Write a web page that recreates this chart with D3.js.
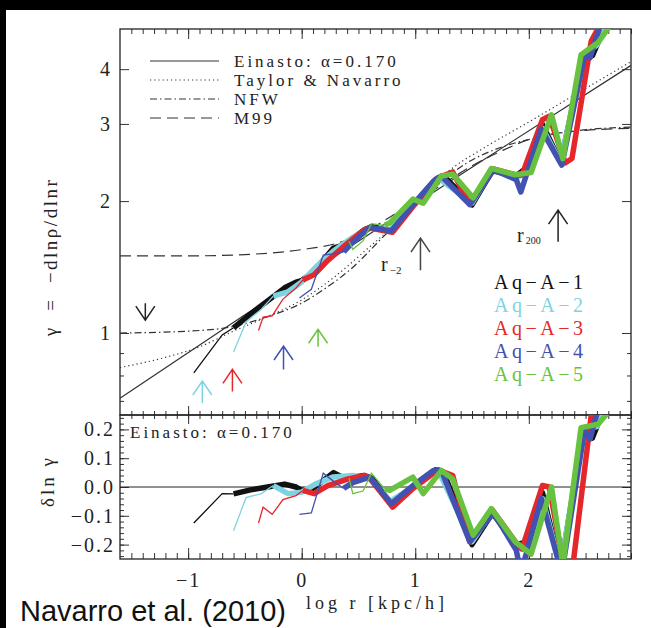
<!DOCTYPE html>
<html>
<head>
<meta charset="utf-8">
<script src="https://cdn.jsdelivr.net/npm/d3@7"></script>
<style>
  body { margin: 0; background: white; }
  text { font-family: "Liberation Serif", "Times New Roman", serif; fill: #222; }
</style>
</head>
<body>
<div class="chart"></div>
<script>
// tick labels
var xTicks = [-1, 0, 1, 2];
var gammaTicks = [1, 2, 3, 4];
var gammaMinor = [0.7, 0.8, 0.9];
var dlnTicks = [-0.2, -0.1, 0.0, 0.1, 0.2];

// model curves: [log r, gamma]
var einasto = [[-1.6, 0.71], [-0.5, 1.10], [0.5, 1.62], [1.5, 2.39], [2.9, 4.08]];
var taylorNavarro = [[-1.6, 0.834], [-1.2, 0.88], [-0.9, 0.93], [-0.6, 1.01], [-0.3, 1.09], [0.0, 1.19], [0.3, 1.35],
  [0.57, 1.55], [0.8, 1.75], [1.05, 2.04], [1.32, 2.37], [1.6, 2.64], [2.0, 3.03], [2.4, 3.49], [2.9, 4.16]];
var nfw = [[-1.6, 1.0], [-1.0, 1.01], [-0.6, 1.035], [-0.3, 1.09], [0.0, 1.17], [0.2, 1.26], [0.42, 1.39], [0.72, 1.66],
  [1.0, 1.96], [1.2, 2.18], [1.45, 2.44], [1.75, 2.65], [2.07, 2.79], [2.45, 2.90], [2.9, 2.95]];
var m99 = [[-1.6, 1.5], [-1.0, 1.5], [-0.5, 1.51], [0.0, 1.55], [0.3, 1.60], [0.5, 1.67], [0.72, 1.80], [1.0, 2.0],
  [1.2, 2.15], [1.48, 2.39], [1.77, 2.61], [2.07, 2.80], [2.5, 2.90], [2.9, 2.93]];

// simulations: log r, gamma (top), delta ln gamma (bottom), index where the thick part starts
var a1LogR  = [-0.95, -0.70, -0.60, -0.45, -0.30, -0.15, -0.05, 0.0, 0.1, 0.28, 0.38, 0.55, 0.62, 0.78, 0.98, 1.18, 1.25, 1.50, 1.68, 1.88, 2.0, 2.12, 2.28, 2.48, 2.56, 2.65, 2.75];
var a1Gamma = [0.811, 0.990, 1.028, 1.106, 1.184, 1.268, 1.306, 1.316, 1.378, 1.562, 1.592, 1.719, 1.749, 1.710, 1.954, 2.243, 2.283, 1.960, 2.348, 2.274, 2.407, 2.990, 2.455, 4.247, 4.295, 4.868, 5.54];
var a1Dln   = [-0.125, -0.023, -0.024, -0.01, 0.0, 0.01, 0.0, -0.012, -0.005, 0.05, 0.03, 0.04, 0.03, -0.055, 0.0, 0.06, 0.05, -0.2, -0.09, -0.2, -0.19, -0.02, -0.28, 0.19, 0.17, 0.26, 0.35];
var a1Thick = 2;

var a2LogR  = [-0.60, -0.49, -0.355, -0.25, -0.12, 0.0, 0.12, 0.28, 0.45, 0.6, 0.78, 0.98, 1.2, 1.5, 1.68, 1.9, 2.0, 2.12, 2.28, 2.48, 2.6, 2.66, 2.75];
var a2Gamma = [0.905, 1.060, 1.133, 1.214, 1.242, 1.308, 1.410, 1.539, 1.653, 1.735, 1.719, 1.954, 2.261, 1.980, 2.359, 2.269, 2.336, 2.931, 2.455, 4.290, 4.541, 4.887, 5.54];
var a2Dln   = [-0.152, -0.037, -0.023, 0.005, -0.023, -0.018, 0.01, 0.035, 0.04, 0.03, -0.05, 0.0, 0.06, -0.19, -0.085, -0.21, -0.22, -0.04, -0.28, 0.2, 0.21, 0.26, 0.35];
var a2Thick = 3;

var a3LogR  = [-0.38, -0.34, -0.26, -0.165, -0.05, 0.01, 0.11, 0.23, 0.41, 0.555, 0.6, 0.8, 0.98, 1.2, 1.33, 1.48, 1.68, 1.9, 1.94, 2.12, 2.18, 2.32, 2.38, 2.55, 2.62, 2.72];
var a3Gamma = [1.013, 1.087, 1.094, 1.195, 1.267, 1.321, 1.359, 1.464, 1.608, 1.722, 1.735, 1.698, 1.944, 2.261, 2.331, 1.965, 2.371, 2.292, 2.293, 3.066, 3.123, 2.444, 2.502, 4.635, 5.01, 5.75];
var a3Dln   = [-0.125, -0.07, -0.095, -0.044, -0.03, -0.012, -0.023, 0.005, 0.028, 0.04, 0.03, -0.07, -0.005, 0.06, 0.04, -0.19, -0.08, -0.2, -0.215, 0.005, 0.0, -0.3, -0.3, 0.25, 0.3, 0.4];
var a3Thick = 5;

var a4LogR  = [-0.02, 0.085, 0.19, 0.29, 0.37, 0.45, 0.6, 0.79, 0.98, 1.16, 1.23, 1.48, 1.69, 1.89, 1.93, 2.11, 2.29, 2.49, 2.54, 2.63, 2.7];
var a4Gamma = [1.202, 1.258, 1.505, 1.517, 1.531, 1.612, 1.742, 1.712, 1.963, 2.219, 2.280, 1.965, 2.357, 2.238, 2.098, 2.920, 2.415, 4.285, 4.249, 5.03, 5.49];
var a4Dln   = [-0.095, -0.09, 0.048, 0.017, -0.005, 0.015, 0.034, -0.058, 0.005, 0.057, 0.057, -0.19, -0.09, -0.22, -0.3, -0.04, -0.3, 0.195, 0.167, 0.3, 0.36];
var a4Thick = 4;

var a5LogR  = [0.417, 0.45, 0.54, 0.614, 0.73, 0.775, 0.98, 1.07, 1.23, 1.33, 1.51, 1.67, 1.88, 2.02, 2.2, 2.30, 2.46, 2.61, 2.70, 2.76];
var a5Gamma = [1.619, 1.552, 1.622, 1.776, 1.761, 1.782, 2.021, 1.978, 2.280, 2.304, 2.034, 2.374, 2.297, 2.324, 3.148, 2.499, 4.315, 4.60, 4.96, 5.40];
var a5Dln   = [0.032, -0.023, -0.014, 0.048, -0.006, -0.012, 0.034, -0.023, 0.057, 0.028, -0.167, -0.075, -0.19, -0.233, 0.0, -0.27, 0.206, 0.218, 0.26, 0.32];
var a5Thick = 4;

// arrows: log r, gamma at tail, gamma at tip
var arrowLogR = [-1.377, -0.875, -0.61, -0.16, 0.144, 1.046, 2.258];
var arrowFrom = [1.17, 0.692, 0.735, 0.826, 0.93, 1.39, 1.615];
var arrowTo   = [1.07, 0.777, 0.826, 0.934, 1.02, 1.647, 1.908];
var arrowColor = ["#222", "#7fd3e0", "#e5262b", "#4152b0", "#69c23f", "#444", "#222"];

var sims = [
  {name: "Aq\u2212A\u22121", color: "#111111", logr: a1LogR, gamma: a1Gamma, dln: a1Dln, thick: a1Thick},
  {name: "Aq\u2212A\u22122", color: "#7fd3e0", logr: a2LogR, gamma: a2Gamma, dln: a2Dln, thick: a2Thick},
  {name: "Aq\u2212A\u22123", color: "#e5262b", logr: a3LogR, gamma: a3Gamma, dln: a3Dln, thick: a3Thick},
  {name: "Aq\u2212A\u22124", color: "#4152b0", logr: a4LogR, gamma: a4Gamma, dln: a4Dln, thick: a4Thick},
  {name: "Aq\u2212A\u22125", color: "#69c23f", logr: a5LogR, gamma: a5Gamma, dln: a5Dln, thick: a5Thick}
];

var models = [
  {name: "Einasto: \u03b1=0.170", data: einasto, dash: null},
  {name: "Taylor & Navarro", data: taylorNavarro, dash: "1.2,3"},
  {name: "NFW", data: nfw, dash: "7,3,1.5,3"},
  {name: "M99", data: m99, dash: "11,6"}
];

var svg = d3.select(".chart")
            .append("svg")
            .attr("width", 651)
            .attr("height", 628)
            .style("background-color", "white");

// black scan border
svg.append("rect").attr("x", 0).attr("y", 0).attr("width", 651).attr("height", 10).attr("fill", "black");
svg.append("rect").attr("x", 0).attr("y", 0).attr("width", 6).attr("height", 628).attr("fill", "black");

var x = d3.scaleLinear().domain([-1.6, 2.9]).range([120, 631]);
var yTop = d3.scaleLog().domain([0.65, 4.94]).range([415, 29]);
var yBot = d3.scaleLinear().domain([-0.25, 0.25]).range([559, 415]);

var xMinor = d3.range(-15, 30).map(function(i) { return i / 10; });
var dlnMinor = d3.range(-12, 13).map(function(i) { return i / 50; });

var defs = svg.append("defs");
defs.append("clipPath").attr("id", "clipTop")
    .append("rect").attr("x", 120).attr("y", 29).attr("width", 511).attr("height", 386);
defs.append("clipPath").attr("id", "clipBot")
    .append("rect").attr("x", 120).attr("y", 415).attr("width", 511).attr("height", 144);

function tickAxis(axis, tx, ty) {
  var g = svg.append("g").attr("transform", "translate(" + tx + "," + ty + ")").call(axis);
  g.select(".domain").remove();
  g.selectAll("line").attr("stroke", "#333").attr("stroke-width", 1);
  g.selectAll("text")
   .style("font-family", "Liberation Serif")
   .style("font-size", "20px")
   .style("letter-spacing", "2px")
   .style("fill", "#222");
  return g;
}

// top panel ticks
tickAxis(d3.axisTop(x).tickValues(xMinor).tickSize(-5).tickFormat(""), 0, 29);
tickAxis(d3.axisTop(x).tickValues(xTicks).tickSize(-10).tickFormat(""), 0, 29);
tickAxis(d3.axisBottom(x).tickValues(xMinor).tickSize(-4).tickFormat(""), 0, 415);
tickAxis(d3.axisBottom(x).tickValues(xTicks).tickSize(-9).tickFormat(""), 0, 415);
tickAxis(d3.axisLeft(yTop).tickValues(gammaTicks).tickSize(-9).tickPadding(8).tickFormat(d3.format("d")), 120, 0);
tickAxis(d3.axisLeft(yTop).tickValues(gammaMinor).tickSize(-4).tickFormat(""), 120, 0);
tickAxis(d3.axisRight(yTop).tickValues(gammaTicks).tickSize(-9).tickFormat(""), 631, 0);
tickAxis(d3.axisRight(yTop).tickValues(gammaMinor).tickSize(-4).tickFormat(""), 631, 0);

// bottom panel ticks
tickAxis(d3.axisTop(x).tickValues(xMinor).tickSize(-4).tickFormat(""), 0, 415);
tickAxis(d3.axisTop(x).tickValues(xTicks).tickSize(-9).tickFormat(""), 0, 415);
tickAxis(d3.axisBottom(x).tickValues(xMinor).tickSize(-6).tickFormat(""), 0, 559);
tickAxis(d3.axisBottom(x).tickValues(xTicks).tickSize(-11).tickPadding(14).tickFormat(d3.format("d")), 0, 559);
tickAxis(d3.axisLeft(yBot).tickValues(dlnMinor).tickSize(-4).tickFormat(""), 120, 0);
tickAxis(d3.axisLeft(yBot).tickValues(dlnTicks).tickSize(-9).tickPadding(5).tickFormat(d3.format(".1f")), 120, 0);
tickAxis(d3.axisRight(yBot).tickValues(dlnMinor).tickSize(-4).tickFormat(""), 631, 0);
tickAxis(d3.axisRight(yBot).tickValues(dlnTicks).tickSize(-9).tickFormat(""), 631, 0);

// frames
svg.append("rect").attr("x", 120).attr("y", 29).attr("width", 511).attr("height", 386)
   .attr("fill", "none").attr("stroke", "#222").attr("stroke-width", 1.3);
svg.append("rect").attr("x", 120).attr("y", 415).attr("width", 511).attr("height", 144)
   .attr("fill", "none").attr("stroke", "#222").attr("stroke-width", 1.3);

// zero line
svg.append("line")
   .attr("x1", 120).attr("x2", 631)
   .attr("y1", yBot(0)).attr("y2", yBot(0))
   .attr("stroke", "#222").attr("stroke-width", 1);

var topLayer = svg.append("g").attr("clip-path", "url(#clipTop)");
var botLayer = svg.append("g").attr("clip-path", "url(#clipBot)");

var modelLine = d3.line()
                  .x(function(d) { return x(d[0]); })
                  .y(function(d) { return yTop(d[1]); })
                  .curve(d3.curveMonotoneX);

models.forEach(function(m) {
  topLayer.append("path")
          .attr("d", modelLine(m.data))
          .attr("fill", "none")
          .attr("stroke", "#333")
          .attr("stroke-width", 1.2)
          .attr("stroke-dasharray", m.dash);
});

sims.forEach(function(s) {
  var idx = d3.range(s.logr.length);
  var lineTop = d3.line().x(function(i) { return x(s.logr[i]); }).y(function(i) { return yTop(s.gamma[i]); });
  var lineBot = d3.line().x(function(i) { return x(s.logr[i]); }).y(function(i) { return yBot(s.dln[i]); });
  var thin = idx.slice(0, s.thick + 1);
  var thick = idx.slice(s.thick);
  [[topLayer, lineTop], [botLayer, lineBot]].forEach(function(p) {
    p[0].append("path")
        .attr("d", p[1](thin))
        .attr("fill", "none")
        .attr("stroke", s.color)
        .attr("stroke-width", 1.3);
    p[0].append("path")
        .attr("d", p[1](thick))
        .attr("fill", "none")
        .attr("stroke", s.color)
        .attr("stroke-width", 5.5)
        .attr("stroke-linejoin", "round");
  });
});

// legend, line styles
models.forEach(function(m, i) {
  var ly = 61 + i * 19;
  svg.append("line")
     .attr("x1", 150).attr("x2", 219)
     .attr("y1", ly).attr("y2", ly)
     .attr("stroke", "#333").attr("stroke-width", 1.2)
     .attr("stroke-dasharray", m.dash);
  svg.append("text")
     .attr("x", 234).attr("y", ly + 6)
     .style("font-size", "17px")
     .style("letter-spacing", "3px")
     .text(m.name);
});

// legend, simulations
sims.forEach(function(s, i) {
  svg.append("text")
     .attr("x", 494).attr("y", 289 + i * 23)
     .style("font-size", "20px")
     .style("letter-spacing", "3.5px")
     .style("fill", s.color)
     .text(s.name);
});

// arrows
arrowLogR.forEach(function(lr, i) {
  var ax = x(lr), y0 = yTop(arrowFrom[i]), y1 = yTop(arrowTo[i]);
  var dir = y1 < y0 ? 1 : -1;
  svg.append("path")
     .attr("d", "M" + ax + "," + y0 + "L" + ax + "," + y1 +
                "M" + (ax - 9.5) + "," + (y1 + dir * 14) + "L" + ax + "," + y1 + "L" + (ax + 9.5) + "," + (y1 + dir * 14))
     .attr("fill", "none")
     .attr("stroke", arrowColor[i])
     .attr("stroke-width", 1.5);
});

// r_-2 and r_200 labels
var rm2 = svg.append("text").attr("x", 381).attr("y", 271).style("font-size", "20px");
rm2.append("tspan").text("r");
rm2.append("tspan").attr("dx", 2).attr("dy", 3).style("font-size", "11px").text("\u22122");
var r200 = svg.append("text").attr("x", 517).attr("y", 242).style("font-size", "20px");
r200.append("tspan").text("r");
r200.append("tspan").attr("dx", 2).attr("dy", 2).style("font-size", "10px").text("200");

// bottom panel label
svg.append("text")
   .attr("x", 130).attr("y", 438)
   .style("font-size", "17px")
   .style("letter-spacing", "3px")
   .text("Einasto: \u03b1=0.170");

// axis titles
svg.append("text")
   .attr("text-anchor", "middle")
   .attr("transform", "translate(57,257) rotate(-90)")
   .style("font-size", "19px")
   .style("letter-spacing", "2.5px")
   .style("white-space", "pre")
   .text("\u03b3  =  \u2212dln\u03c1/dlnr");
svg.append("text")
   .attr("text-anchor", "middle")
   .attr("transform", "translate(54,481) rotate(-90)")
   .style("font-size", "19px")
   .style("letter-spacing", "3px")
   .text("\u03b4ln \u03b3");
svg.append("text")
   .attr("text-anchor", "middle")
   .attr("x", 377).attr("y", 609)
   .style("font-size", "18px")
   .style("letter-spacing", "4px")
   .text("log r [kpc/h]");

svg.append("text")
   .attr("x", 20).attr("y", 621)
   .style("font-family", "Liberation Sans, Arial, sans-serif")
   .style("font-size", "29px")
   .style("fill", "#111")
   .text("Navarro et al. (2010)");
</script>
</body>
</html>
